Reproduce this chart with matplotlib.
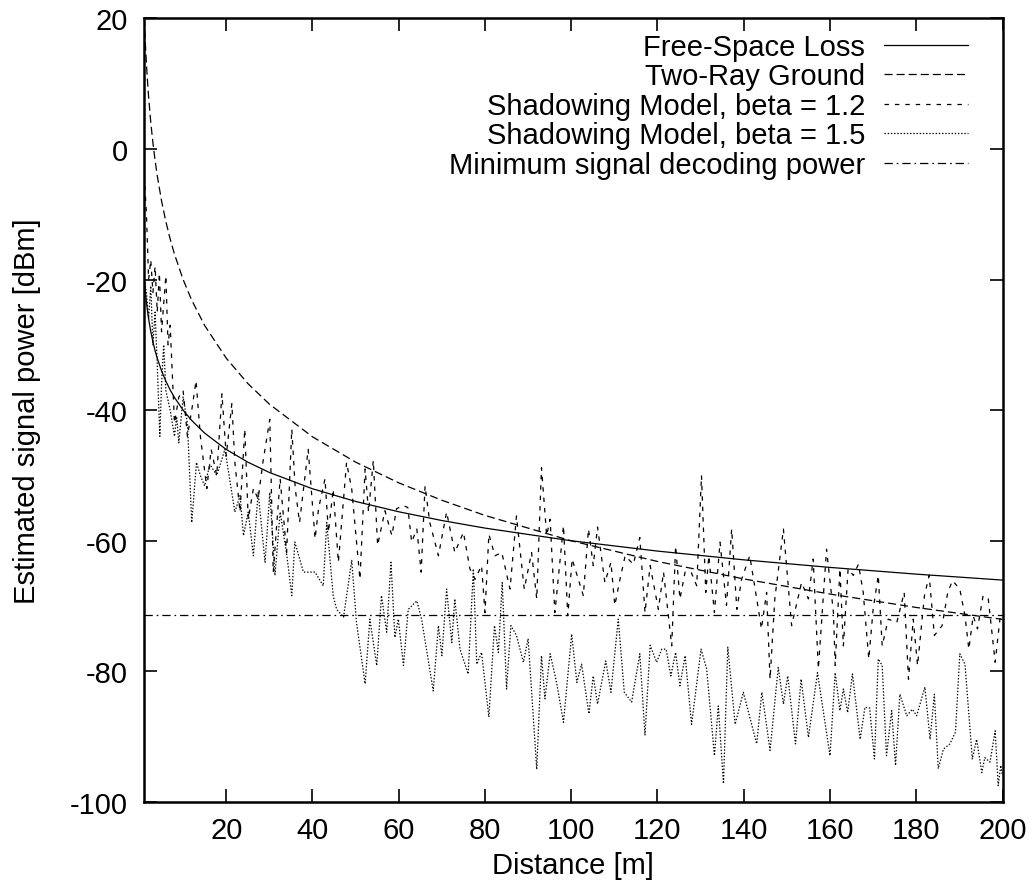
import matplotlib
matplotlib.use("Agg")
import matplotlib.pyplot as plt

plt.rcParams['font.family'] = ['Liberation Sans', 'DejaVu Sans']
plt.rcParams['lines.scale_dashes'] = False
plt.rcParams['axes.unicode_minus'] = False

# ---- smooth model curves (values read at sample distances) ----
dist_model = [1, 1.25, 1.5, 1.75, 2, 2.5, 3, 3.5, 4, 5, 6, 7, 8, 10, 12, 15, 20, 25, 30,
              40, 50, 60, 70, 80, 100, 120, 140, 160, 180, 200]
free_space = [-20, -21.94, -23.52, -24.86, -26.02, -27.96, -29.54, -30.88, -32.04, -33.98,
              -35.56, -36.90, -38.06, -40, -41.58, -43.52, -46.02, -47.96, -49.54,
              -52.04, -53.98, -55.56, -56.90, -58.06, -60, -61.58, -62.92, -64.08, -65.11, -66.02]
two_ray = [20, 16.12, 12.96, 10.28, 7.96, 4.08, 0.92, -1.76, -4.08, -7.96,
           -11.13, -13.80, -16.12, -20, -23.17, -27.04, -32.04, -35.92, -39.08,
           -44.08, -47.96, -51.13, -53.80, -56.12, -60, -63.17, -65.84, -68.16, -70.21, -72.04]

# ---- shadowing model, beta = 1.2 ----
sh12_x = [1, 1.5, 2, 2.5, 3, 3.5, 4, 4.5, 5, 6, 6.5, 7, 8, 9, 10, 11, 12, 13, 14, 15.5, 16.5,
          17.8, 19, 20, 21.3, 22, 23.2, 24.3, 25.1, 26.3, 27.4, 28.5, 30.1, 30.9, 32.5, 34,
          35.2, 36, 37, 39, 40.6, 41.4, 42.9, 43.7, 44.8, 46, 47.9, 49.1, 51, 52.2, 53, 54.1,
          55.1, 56.8, 58.4, 59.5, 61, 62.1, 63, 64.2, 65.2, 66.1, 67.2, 69.2, 71.1, 73, 75,
          76.5, 77.7, 79.2, 80, 80.9, 82.3, 83.9, 85.8, 87.3, 89.1, 90.8, 92, 93.1, 94.3, 95.1,
          96.2, 98.2, 99.2, 100.2, 102.8, 104, 105.1, 106.1, 107.8, 109.2, 110.1, 111.3, 112.5,
          114.4, 115.9, 117.1, 118.3, 120.2, 121.4, 123.3, 124.2, 125.2, 126.4, 127.8, 129.1,
          130.2, 131.2, 131.9, 133.2, 134.5, 136, 137.2, 138.4, 139.5, 141.4, 143.4, 144.1,
          145.3, 146.1, 147.2, 149.2, 151.1, 153.4, 155, 156.1, 157.3, 159.2, 160.8, 161.2,
          162.3, 163.1, 164.2, 165.4, 166.6, 167.7, 169, 170, 171.2, 172.1, 173.5, 175.5,
          177.2, 178.2, 179.3, 180.3, 181.9, 183, 184.2, 186, 187.3, 188.4, 190.1, 191.3,
          192.2, 193.2, 194.2, 195.5, 196.7, 198.3, 199.4, 200]
sh12_y = [-4.1, -10, -20, -17, -22, -18, -25, -19, -28, -19.4, -30, -27, -42, -38, -37, -44, -40,
          -35.5, -44, -52, -46, -50, -37.5, -47, -39, -48, -55.6, -42.9, -56.7, -52, -53.6, -48,
          -41.4, -64.8, -50.5, -61.8, -42.9, -52, -57.2, -46, -59.7, -55.1, -50.5, -58.7, -52.1,
          -63.3, -48, -52.1, -65.9, -49, -55.6, -47.7, -60.7, -55.4, -59.2, -55.1, -54.6, -54.9,
          -60.2, -58.2, -64.8, -51.6, -57.2, -62.3, -55.6, -61.8, -58.7, -64.3, -65.9, -63.8,
          -71, -59, -62.3, -61.8, -67.4, -56.2, -67.4, -61.8, -68.9, -48.8, -59.2, -56.7, -71,
          -57.7, -71.5, -62.8, -68.4, -58.2, -63.8, -57.9, -66.4, -63.3, -69.9, -65.9, -62.3,
          -63.6, -59.5, -71, -63.8, -70.5, -64.8, -76.1, -60.8, -68.9, -64.8, -64.8, -66.9,
          -50, -67.9, -62.3, -71, -60.2, -69.9, -58.2, -70.5, -65.9, -62.3, -70.5, -73.5,
          -67.9, -81.2, -68.9, -58.2, -73, -66.4, -68.9, -62.8, -79.6, -61.3, -71, -79.1,
          -64.3, -76.1, -64.3, -65.3, -63.6, -67.9, -78.1, -70.5, -65.3, -76.1, -72, -72.5,
          -67.9, -81.2, -72, -79.1, -68.4, -65.3, -74.5, -73, -67.9, -66.1, -67.4, -71.5,
          -76.6, -71.5, -73.5, -68.4, -68.9, -78.6, -72, -71]

# ---- shadowing model, beta = 1.5 ----
sh15_x = [1, 1.5, 2, 2.5, 3, 3.5, 4, 4.6, 5, 5.5, 6, 7, 8, 8.5, 9, 10, 11, 12, 13.1, 14, 15,
          16.2, 17.8, 19.7, 22, 23.2, 24, 25.1, 26.3, 27.4, 29, 30.1, 31.3, 32.5, 34, 35.2,
          35.9, 37.9, 40.6, 42.5, 43.3, 44.8, 45.6, 47.2, 49.1, 50.2, 52.2, 53.3, 54.9, 56,
          57.2, 58.2, 59.1, 59.9, 61.1, 62.2, 64.2, 65.3, 68, 69.2, 70, 71.1, 72.3, 73, 74.2,
          76.1, 77.3, 78.1, 79.2, 80.9, 82.2, 83.1, 84, 85, 86, 87.3, 88.9, 90, 92, 93.1, 93.9,
          95.1, 96.6, 98.2, 100.1, 101.3, 102.4, 104.1, 105.1, 106.1, 108, 109.2, 110.9, 112.3,
          114, 115.9, 117.1, 118.3, 119.8, 121, 122, 123.1, 124.2, 125.2, 126.4, 127.9, 130.1,
          131.4, 133.2, 134.1, 135.3, 136.3, 138, 139.9, 143, 144.2, 146.1, 148, 149.2, 150.2,
          152, 153.3, 155, 157.1, 160, 161.2, 162.3, 163.1, 164.1, 165.2, 167, 168.1, 169.2,
          170.3, 171.2, 172.1, 173.1, 174.3, 175.2, 176.2, 177.8, 179.1, 180.1, 182, 183.2,
          184.2, 185.1, 186.3, 187.8, 189.1, 190.1, 191.3, 193, 194, 195.2, 195.9, 197.1,
          198.3, 199, 199.6, 200]
sh15_y = [-20, -22, -26, -21, -30, -25, -33, -44, -36, -30, -37, -40, -44, -41, -45, -38, -42,
          -57.2, -48, -50, -51.6, -48.3, -50, -46, -55.6, -53.1, -59.2, -55.6, -62.3, -52.6,
          -63.3, -52.6, -65.3, -55.6, -62, -68.4, -60.2, -64.8, -64.8, -66.9, -57.2, -68.4,
          -70.5, -71.7, -63, -72.5, -81.9, -72, -79.1, -68.4, -74, -63.3, -74.8, -72, -79.1,
          -70.5, -69.2, -72, -83, -73, -77.6, -67.4, -75.6, -68.9, -76.6, -80.4, -64.3, -78.9,
          -77.1, -87, -73, -77.1, -66.4, -82.7, -73, -74.5, -78.6, -75, -95, -77.6, -84.2,
          -77.3, -81.7, -87.8, -74.3, -81.7, -78.9, -86.5, -80.7, -85, -78.4, -83.2, -72,
          -83.2, -84.7, -77.3, -89.8, -76, -78.6, -76.6, -76.6, -80.7, -77.1, -82.2, -77.6,
          -88.1, -76.6, -79.6, -92.9, -85.3, -97.2, -76.3, -88.1, -83.2, -91.1, -83.2, -92.1,
          -79.4, -85, -80.7, -91.1, -81.2, -90.1, -80.2, -92.9, -80.2, -86, -82.7, -86.3,
          -80.4, -90.4, -85.5, -85.6, -93.4, -78.1, -79.1, -92.9, -86, -94.4, -83.5, -86.8,
          -85.8, -86.8, -82.4, -90.4, -83.5, -94.9, -91.9, -91.1, -89.3, -77.3, -78.9, -93.4,
          -90.4, -95.5, -93.2, -93.9, -89.1, -97.5, -94.4, -96]

min_decoding_power = -71.4

x_ticks = [20, 40, 60, 80, 100, 120, 140, 160, 180, 200]
y_ticks = [-100, -80, -60, -40, -20, 0, 20]

FS = 21
fig = plt.figure(figsize=(10.36, 8.95), dpi=100)
ax = fig.add_axes([144.3 / 1036, 1 - 803 / 895, (1002.5 - 144.3) / 1036, (803 - 19.3) / 895])

lw = 0.9
ax.plot(dist_model, free_space, color='black', lw=lw, label='Free-Space Loss')
ax.plot(dist_model, two_ray, color='black', lw=lw, dashes=(5.8, 2.9), label='Two-Ray Ground')
ax.plot(sh12_x, sh12_y, color='black', lw=lw, dashes=(3.2, 4.3), label='Shadowing Model, beta = 1.2')
ax.plot(sh15_x, sh15_y, color='black', lw=lw, dashes=(1.0, 1.3), label='Shadowing Model, beta = 1.5')
ax.axhline(min_decoding_power, color='black', lw=lw, dashes=(6, 2.8, 1.2, 2.8),
           label='Minimum signal decoding power')

ax.set_xlim(1, 200)
ax.set_ylim(-100, 20)
ax.set_xticks(x_ticks)
ax.set_yticks(y_ticks)
ax.tick_params(direction='in', length=9.4, width=1.2, top=True, right=True, labelsize=FS)
ax.tick_params(axis='x', pad=10)
ax.tick_params(axis='y', pad=12)
for s in ax.spines.values():
    s.set_linewidth(1.8)

ax.set_xlabel('Distance [m]', fontsize=FS, va='center')
ax.xaxis.set_label_coords(0.5, (803 - 866) / 783.7)
ax.set_ylabel('Estimated signal power [dBm]', fontsize=FS, va='center')
ax.yaxis.set_label_coords((27 - 144.3) / 858.2, 0.5)

leg = ax.legend(loc='upper right', bbox_to_anchor=((968 - 144.3) / 858.2, (803 - 34) / 783.7),
                frameon=False, fontsize=FS, markerfirst=False, handlelength=2.88,
                handletextpad=0.65, labelspacing=0.05, borderpad=0, borderaxespad=0)
for t in leg.get_texts():
    t.set_ha('right')

fig.savefig('out.png', dpi=100)
